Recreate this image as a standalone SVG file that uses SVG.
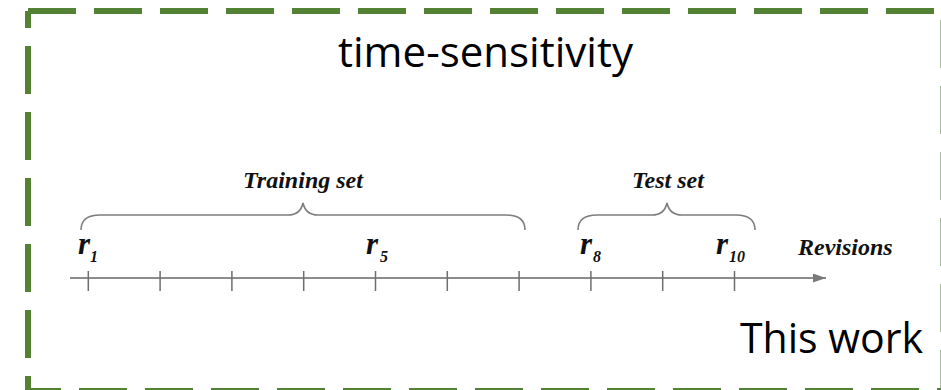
<svg xmlns="http://www.w3.org/2000/svg" width="941" height="390" viewBox="0 0 941 390">
  <defs>
    <marker id="arrowHead" viewBox="0 0 13 9" refX="13" refY="4.5" markerWidth="13" markerHeight="9" markerUnits="userSpaceOnUse" orient="auto">
      <path d="M0,0 L13,4.5 L0,9 Z" fill="#7a7a7a"/>
    </marker>
  </defs>
  <style>
    .frame { stroke: #548235; stroke-width: 6; fill: none; stroke-dasharray: 48 18; }
    .big { font-family: "Open Sans", "Noto Sans", sans-serif; font-size: 42px; fill: #000; }
    .lbl { font-family: "Liberation Serif", "Times New Roman", serif; font-weight: bold; font-style: italic; fill: #111; }
    .set { font-size: 24px; }
    .rv { font-size: 31px; }
    .sub { font-size: 16px; }
    .axis { stroke: #8c8c8c; stroke-width: 2; fill: none; }
    .tick { stroke: #6e6e6e; stroke-width: 1.5; }
    .brace { stroke: #7d7d7d; stroke-width: 1.6; fill: none; }
  </style>

  <rect width="941" height="390" fill="#fff"/>

  <!-- dashed outer frame -->
  <g id="frame">
    <line class="frame" x1="28" y1="11" x2="943.5" y2="11"/>
    <line class="frame" x1="943.5" y1="11" x2="943.5" y2="391" stroke-dashoffset="57"/>
    <line class="frame" x1="28" y1="391" x2="943.5" y2="391" stroke-dashoffset="15"/>
    <line class="frame" x1="28" y1="11" x2="28" y2="391" stroke-dashoffset="31"/>
  </g>

  <g id="title">
    <text class="big" x="338" y="67" textLength="295" lengthAdjust="spacingAndGlyphs">time-sensitivity</text>
  </g>

  <g id="caption">
    <text class="big" x="740" y="353" textLength="183" lengthAdjust="spacingAndGlyphs">This work</text>
  </g>

  <!-- revision timeline -->
  <g id="connectors">
    <line id="axis" class="axis" x1="70" y1="278" x2="826" y2="278" marker-end="url(#arrowHead)"/>
  </g>

  <g id="ticks">
    <line class="tick" x1="88.3" y1="271" x2="88.3" y2="291"/>
    <line class="tick" x1="160.1" y1="271" x2="160.1" y2="291"/>
    <line class="tick" x1="231.9" y1="271" x2="231.9" y2="291"/>
    <line class="tick" x1="303.7" y1="271" x2="303.7" y2="291"/>
    <line class="tick" x1="375.5" y1="271" x2="375.5" y2="291"/>
    <line class="tick" x1="447.3" y1="271" x2="447.3" y2="291"/>
    <line class="tick" x1="519.1" y1="271" x2="519.1" y2="291"/>
    <line class="tick" x1="590.9" y1="271" x2="590.9" y2="291"/>
    <line class="tick" x1="662.7" y1="271" x2="662.7" y2="291"/>
    <line class="tick" x1="734.5" y1="271" x2="734.5" y2="291"/>
  </g>

  <g id="training-set">
    <path class="brace" d="M81,230 C81,220 88,215 100,215 L288,215 C296,215 301,212 303,203 C305,212 310,215 318,215 L506,215 C518,215 525,220 525,230"/>
    <text class="lbl set" x="303" y="188" text-anchor="middle">Training set</text>
  </g>

  <g id="test-set">
    <path class="brace" d="M578,230 C578,220 585,215 597,215 L652,215 C660,215 665,212 667,203 C669,212 674,215 682,215 L736,215 C748,215 755,220 755,230"/>
    <text class="lbl set" x="668" y="188" text-anchor="middle">Test set</text>
  </g>

  <g id="r1">
    <text class="lbl rv" x="78" y="254">r</text>
    <text class="lbl sub" x="90" y="262">1</text>
  </g>
  <g id="r5">
    <text class="lbl rv" x="366" y="254">r</text>
    <text class="lbl sub" x="380" y="262">5</text>
  </g>
  <g id="r8">
    <text class="lbl rv" x="580" y="254">r</text>
    <text class="lbl sub" x="593" y="262">8</text>
  </g>
  <g id="r10">
    <text class="lbl rv" x="716" y="254">r</text>
    <text class="lbl sub" x="729" y="262">10</text>
  </g>

  <g id="revisions">
    <text class="lbl set" x="798" y="255">Revisions</text>
  </g>
</svg>
